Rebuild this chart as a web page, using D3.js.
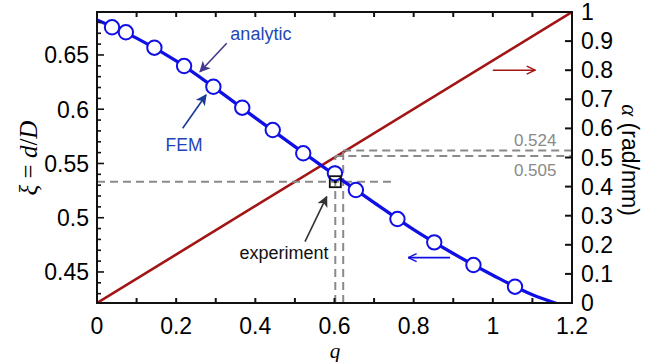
<!DOCTYPE html>
<html>
<head>
<meta charset="utf-8">
<script src="https://cdn.jsdelivr.net/npm/d3@7"></script>
<style>
  body { margin: 0; background: #fff; }
  svg { display: block; }
  .tick-label { font-family: 'Liberation Sans', Arial, sans-serif; font-size: 23px; fill: #000; }
  .math { font-family: 'Liberation Serif', 'DejaVu Serif', serif; font-style: italic; }
</style>
</head>
<body>
<svg id="svg" width="670" height="362"></svg>
<script>
const M = { left: 97, right: 572, top: 12, bottom: 303 }

// analytic curve xi(q)
const analyticQ = [0, 0.1, 0.2, 0.3, 0.4, 0.5, 0.6, 0.7, 0.8, 0.9, 1.0, 1.1, 1.165]
const analyticXi = [0.6822, 0.6655, 0.6445, 0.619, 0.592, 0.5655, 0.5395, 0.514, 0.489, 0.467, 0.447, 0.429, 0.4205]

// FEM points
const femQ = [0.038, 0.073, 0.145, 0.22, 0.294, 0.367, 0.444, 0.521, 0.601, 0.654, 0.759, 0.852, 0.951, 1.056]
const femXi = [0.6755, 0.6709, 0.6567, 0.6398, 0.6207, 0.6014, 0.5808, 0.5594, 0.5409, 0.5255, 0.4988, 0.4773, 0.4564, 0.4364]

// alpha(q), right axis
const alphaQ = [0, 1.2]
const alphaVal = [0, 1]

// experiment
const expQ = 0.602
const expXi = 0.5332
const expLineEndQ = 0.75
const guideQ = [0.602, 0.622]
const guideAlpha = [0.505, 0.524]
const guideLabels = ['0.505', '0.524']

const xTicks = [0, 0.2, 0.4, 0.6, 0.8, 1, 1.2]
const xTickLabels = ['0', '0.2', '0.4', '0.6', '0.8', '1', '1.2']
const yLTicks = [0.45, 0.5, 0.55, 0.6, 0.65]
const yLTickLabels = ['0.45', '0.5', '0.55', '0.6', '0.65']
const yRTicks = [0, 0.1, 0.2, 0.3, 0.4, 0.5, 0.6, 0.7, 0.8, 0.9, 1]
const yRTickLabels = ['0', '0.1', '0.2', '0.3', '0.4', '0.5', '0.6', '0.7', '0.8', '0.9', '1']

const BLUE = '#1010e6'
const RED = '#a31515'
const GRAY = '#8a8a8a'

const x = d3.scaleLinear([0, 1.2], [M.left, M.right])
const yL = d3.scaleLinear([0.4214, 0.6896], [M.bottom, M.top])
const yR = d3.scaleLinear([0, 1], [M.bottom, M.top])

const svg = d3.select('svg')

const defs = svg.append('defs')
defs.append('clipPath').attr('id', 'clip')
  .append('rect')
  .attr('x', M.left).attr('y', M.top)
  .attr('width', M.right - M.left).attr('height', M.bottom - M.top)

function solidHead (id, color) {
  defs.append('marker')
    .attr('id', id)
    .attr('viewBox', '0 0 10 10')
    .attr('refX', 9).attr('refY', 5)
    .attr('markerWidth', 11).attr('markerHeight', 11)
    .attr('markerUnits', 'userSpaceOnUse')
    .attr('orient', 'auto')
    .append('path')
    .attr('d', 'M0,0 L10,5 L0,10 L2.5,5 Z')
    .attr('fill', color)
}
function openHead (id, color) {
  defs.append('marker')
    .attr('id', id)
    .attr('viewBox', '0 0 10 10')
    .attr('refX', 9.5).attr('refY', 5)
    .attr('markerWidth', 10).attr('markerHeight', 10)
    .attr('markerUnits', 'userSpaceOnUse')
    .attr('orient', 'auto')
    .append('path')
    .attr('d', 'M1,1 L9.5,5 L1,9')
    .attr('fill', 'none')
    .attr('stroke', color)
    .attr('stroke-width', 1.4)
}
solidHead('hAnalytic', '#45398e')
solidHead('hFem', '#1a3a98')
solidHead('hExp', '#333')
openHead('hRed', RED)
openHead('hBlue', BLUE)

const plot = svg.append('g').attr('clip-path', 'url(#clip)')

// red alpha line
plot.append('path')
  .datum(alphaQ.map((q, i) => [q, alphaVal[i]]))
  .attr('d', d3.line().x(d => x(d[0])).y(d => yR(d[1])))
  .attr('fill', 'none').attr('stroke', RED).attr('stroke-width', 2.6)

// dashed guides
const dash = '8,5'
plot.append('line')
  .attr('x1', x(0)).attr('x2', x(expLineEndQ))
  .attr('y1', yL(expXi)).attr('y2', yL(expXi))
  .attr('stroke', GRAY).attr('stroke-width', 2).attr('stroke-dasharray', dash)
guideQ.forEach((q, i) => {
  plot.append('line')
    .attr('x1', x(q)).attr('x2', x(q))
    .attr('y1', yR(0)).attr('y2', yR(guideAlpha[i]))
    .attr('stroke', GRAY).attr('stroke-width', 2).attr('stroke-dasharray', dash)
  plot.append('line')
    .attr('x1', x(q)).attr('x2', x(1.2))
    .attr('y1', yR(guideAlpha[i])).attr('y2', yR(guideAlpha[i]))
    .attr('stroke', GRAY).attr('stroke-width', 2).attr('stroke-dasharray', dash)
})

// analytic curve
plot.append('path')
  .datum(analyticQ.map((q, i) => [q, analyticXi[i]]))
  .attr('d', d3.line().curve(d3.curveMonotoneX).x(d => x(d[0])).y(d => yL(d[1])))
  .attr('fill', 'none').attr('stroke', BLUE).attr('stroke-width', 3.3)

// FEM circles
plot.selectAll('circle.fem')
  .data(femQ.map((q, i) => [q, femXi[i]]))
  .join('circle')
  .attr('class', 'fem')
  .attr('cx', d => x(d[0])).attr('cy', d => yL(d[1]))
  .attr('r', 7.2)
  .attr('fill', '#fff').attr('stroke', BLUE).attr('stroke-width', 2)

// experiment square
svg.append('rect')
  .attr('x', x(expQ) - 5.5).attr('y', yL(expXi) - 5.5)
  .attr('width', 11).attr('height', 11)
  .attr('fill', 'none').attr('stroke', '#111').attr('stroke-width', 1.8)
svg.append('circle')
  .attr('cx', x(expQ)).attr('cy', yL(expXi)).attr('r', 1.6).attr('fill', '#111')

// frame
svg.append('rect')
  .attr('x', M.left).attr('y', M.top)
  .attr('width', M.right - M.left).attr('height', M.bottom - M.top)
  .attr('fill', 'none').attr('stroke', '#111').attr('stroke-width', 2)

// ticks
const xt = d3.range(0, 13).map(i => i / 10)
svg.selectAll('line.xb').data(xt).join('line')
  .attr('x1', d => x(d)).attr('x2', d => x(d))
  .attr('y1', M.bottom).attr('y2', M.bottom - 5)
  .attr('stroke', '#111').attr('stroke-width', 2)
svg.selectAll('line.xt').data(xt).join('line')
  .attr('x1', d => x(d)).attr('x2', d => x(d))
  .attr('y1', M.top).attr('y2', M.top + 5)
  .attr('stroke', '#111').attr('stroke-width', 2)
const ylt = d3.range(43, 69).map(i => i / 100)
svg.selectAll('line.yl').data(ylt).join('line')
  .attr('x1', M.left).attr('x2', d => M.left + (Math.round(d * 100) % 5 === 0 ? 7 : 4))
  .attr('y1', d => yL(d)).attr('y2', d => yL(d))
  .attr('stroke', '#111').attr('stroke-width', 1.6)
svg.selectAll('line.yr').data(yRTicks).join('line')
  .attr('x1', M.right).attr('x2', M.right - 7)
  .attr('y1', d => yR(d)).attr('y2', d => yR(d))
  .attr('stroke', '#111').attr('stroke-width', 2)

// tick labels
svg.selectAll('text.xl').data(xTicks).join('text')
  .attr('class', 'tick-label')
  .attr('x', d => x(d)).attr('y', M.bottom + 30.5)
  .attr('text-anchor', 'middle')
  .text((d, i) => xTickLabels[i])
svg.selectAll('text.yll').data(yLTicks).join('text')
  .attr('class', 'tick-label')
  .attr('x', M.left - 8).attr('y', d => yL(d) + 8.3)
  .attr('text-anchor', 'end')
  .text((d, i) => yLTickLabels[i])
svg.selectAll('text.yrl').data(yRTicks).join('text')
  .attr('class', 'tick-label')
  .attr('x', M.right + 9).attr('y', d => yR(d) + 8)
  .attr('text-anchor', 'start')
  .text((d, i) => yRTickLabels[i])

// axis titles
svg.append('text')
  .attr('class', 'math')
  .attr('x', 335).attr('y', 357.5)
  .attr('text-anchor', 'middle')
  .attr('font-size', 21)
  .text('q')

const lt = svg.append('text')
  .attr('transform', 'translate(37,158) rotate(-90)')
  .attr('text-anchor', 'middle')
  .attr('font-size', 25)
  .attr('font-family', "'Liberation Serif', 'DejaVu Serif', serif")
lt.append('tspan').attr('font-style', 'italic').text('ξ')
lt.append('tspan').text(' = ')
lt.append('tspan').attr('font-style', 'italic').text('d')
lt.append('tspan').text('/')
lt.append('tspan').attr('font-style', 'italic').text('D')

const rt = svg.append('text')
  .attr('transform', 'translate(622,160) rotate(90)')
  .attr('text-anchor', 'middle')
  .attr('font-size', 23)
rt.append('tspan').attr('font-family', "'Liberation Serif', serif").attr('font-style', 'italic').text('α')
rt.append('tspan').attr('font-family', "'Liberation Sans', Arial, sans-serif").text(' (rad/mm)')

// annotations
function arrow (x1, y1, x2, y2, color, w, head) {
  svg.append('line')
    .attr('x1', x1).attr('y1', y1).attr('x2', x2).attr('y2', y2)
    .attr('stroke', color).attr('stroke-width', w)
    .attr('marker-end', 'url(#' + head + ')')
}
function label (tx, ty, str, color, size) {
  svg.append('text')
    .attr('x', tx).attr('y', ty)
    .attr('text-anchor', 'middle')
    .attr('font-family', "'Liberation Sans', Arial, sans-serif")
    .attr('font-size', size)
    .attr('fill', color)
    .text(str)
}

label(x(0.414), yL(0.6698) + 6.5, 'analytic', '#2347b5', 18)
arrow(x(0.3277), yL(0.6608), x(0.2602), yL(0.6346), '#45398e', 1.6, 'hAnalytic')

label(x(0.2198), yL(0.5679) + 6.5, 'FEM', '#1f44b8', 17.5)
arrow(x(0.2165), yL(0.5824), x(0.2754), yL(0.6131), '#1a3a98', 1.6, 'hFem')

label(x(0.4724), yL(0.4684) + 6.5, 'experiment', '#111', 18)
arrow(x(0.5255), yL(0.4779), x(0.5803), yL(0.5194), '#333', 1.6, 'hExp')

arrow(x(1.0), yR(0.8), x(1.107), yR(0.8), RED, 1.6, 'hRed')
arrow(x(0.892), yL(0.4632), x(0.786), yL(0.4632), BLUE, 1.6, 'hBlue')

label(x(1.107), yR(0.56) + 6, guideLabels[1], GRAY, 17)
label(x(1.107), yR(0.457) + 6, guideLabels[0], GRAY, 17)
</script>
</body>
</html>
